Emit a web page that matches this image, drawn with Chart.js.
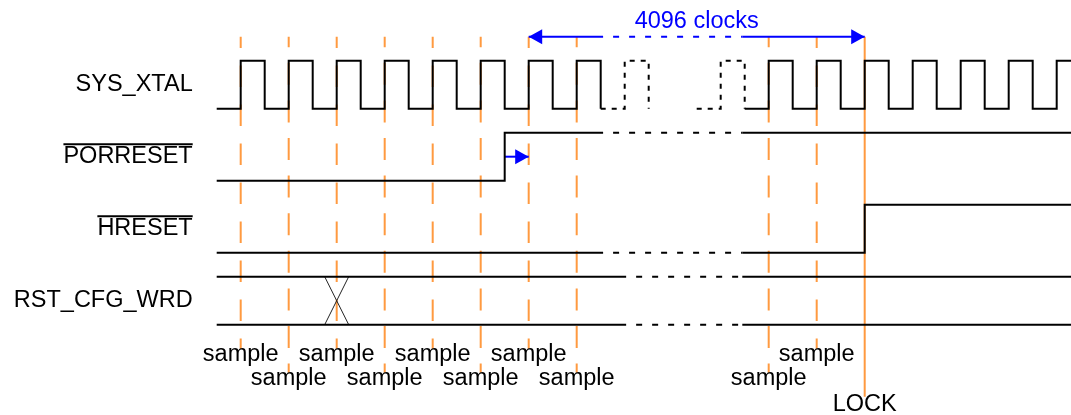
<!DOCTYPE html>
<html>
<head>
<meta charset="utf-8">
<title>Reset configuration timing</title>
<script src="https://cdn.jsdelivr.net/npm/chart.js@4.4.1/dist/chart.umd.min.js"></script>
<style>
  html, body { margin: 0; padding: 0; background: #fff; }
  #wrap { width: 1071px; height: 415px; position: relative; }
</style>
</head>
<body>
<div id="wrap"><canvas id="timing"></canvas></div>
<script>
// time is counted in SYS_XTAL periods from the first sampled rising edge
const signalNames = ['SYS_XTAL', 'PORRESET', 'HRESET', 'RST_CFG_WRD'];
const activeLow   = [false, true, true, false];

// SYS_XTAL edges and the level after each edge
const xtalTimes  = [-0.5, 0, 0.5, 1, 1.5, 2, 2.5, 3, 3.5, 4, 4.5, 5, 5.5, 6, 6.5, 7, 7.5, 8, 8.5,
                    9, 9.5, 10, 10.5, 11, 11.5, 12, 12.5, 13, 13.5, 14, 14.5, 15, 15.5, 16, 16.5, 17];
const xtalLevels = [0, 1, 0, 1, 0, 1, 0, 1, 0, 1, 0, 1, 0, 1, 0, 1, 0, 1, 0,
                    1, 0, 1, 0, 1, 0, 1, 0, 1, 0, 1, 0, 1, 0, 1, 0, 1];
const porTimes     = [-0.5, 5.5];
const porLevels    = [0, 1];
const hresetTimes  = [-0.5, 13];
const hresetLevels = [0, 1];
const cfgCrossTimes = [1.75, 2.25];

// where the traces are broken (dashed) to stand for the long wait
const startTime = -0.5, endTime = 17.4;
const breakStart = 7.55, breakEnd = 10.45, busBreakStart = 8.03;
const xtalBreaks = [[7.5, 8.5], [9.5, 10.5]];

const sampleTimes = [0, 1, 2, 3, 4, 5, 6, 7, 11, 12];
const sampleRows  = [1, 2, 1, 2, 1, 2, 1, 2, 2, 1];
const sampleLabel = 'sample';
const lockTime = 13;
const lockLabel = 'LOCK';
const countFrom = 6, countTo = 13;
const countLabel = '4096 clocks';
const porDelay = [5.5, 6];

// layout
const BLACK = '#000000', BLUE = '#0000ff', ORANGE = '#ff9a40';
const FONT = '23.5px "Liberation Sans", Arial, sans-serif';
const lane = [9, 6, 3, 0];   // low level of each row on the y scale
const swing = 2;
const arrowY = 12, guideTop = 12, nameX = -1;

function levelAt(times, levels, t) {
    let v = levels[0];
    times.forEach((tt, i) => { if (tt <= t) v = levels[i]; });
    return v;
}

function piece(times, levels, a, b) {
    const pts = [{x: a, y: levelAt(times, levels, a)}];
    times.forEach((t, i) => { if (t > a && t < b) pts.push({x: t, y: levels[i]}); });
    pts.push({x: b, y: levelAt(times, levels, b)});
    return pts;
}

function onLane(pts, row) {
    return pts.map(p => ({x: p.x, y: lane[row] + p.y * swing}));
}

const datasets = [];
function addLine(points, style) {
    datasets.push(Object.assign({
        data: points,
        showLine: true,
        pointRadius: 0,
        borderWidth: 2,
        borderColor: BLACK,
        stepped: 'before',
        order: 0
    }, style));
}

const dashed = {borderDash: [6, 10], borderDashOffset: 6};
const dotted = {borderDash: [5, 6]};

// SYS_XTAL
addLine(onLane(piece(xtalTimes, xtalLevels, startTime, xtalBreaks[0][0]), 0), {});
xtalBreaks.forEach(b => addLine(onLane(piece(xtalTimes, xtalLevels, b[0], b[1]), 0), dotted));
addLine(onLane(piece(xtalTimes, xtalLevels, xtalBreaks[1][1], endTime), 0), {});

// PORRESET and HRESET
[[porTimes, porLevels, 1], [hresetTimes, hresetLevels, 2]].forEach(([t, l, row]) => {
    addLine(onLane(piece(t, l, startTime, breakStart), row), {});
    addLine(onLane(piece(t, l, breakStart, breakEnd), row), dashed);
    addLine(onLane(piece(t, l, breakEnd, endTime), row), {});
});

// RST_CFG_WRD bus, both rails
[0, 1].forEach(level => {
    addLine(onLane(piece([startTime], [level], startTime, busBreakStart), 3), {});
    addLine(onLane(piece([startTime], [level], busBreakStart, breakEnd), 3), dashed);
    addLine(onLane(piece([startTime], [level], breakEnd, endTime), 3), {});
});
addLine(onLane([{x: cfgCrossTimes[0], y: 1}, {x: cfgCrossTimes[1], y: 0}], 3),
        {stepped: false, borderWidth: 1, borderColor: '#222'});
addLine(onLane([{x: cfgCrossTimes[0], y: 0}, {x: cfgCrossTimes[1], y: 1}], 3),
        {stepped: false, borderWidth: 1, borderColor: '#222'});

// 4096 clocks span
addLine([{x: countFrom, y: arrowY}, {x: breakStart, y: arrowY}],
        {borderColor: BLUE, stepped: false, arrowStart: true});
addLine([{x: breakStart, y: arrowY}, {x: breakEnd, y: arrowY}],
        Object.assign({borderColor: BLUE, stepped: false}, dashed));
addLine([{x: breakEnd, y: arrowY}, {x: countTo, y: arrowY}],
        {borderColor: BLUE, stepped: false, arrowEnd: true});

// PORRESET to first sample
addLine([{x: porDelay[0], y: lane[1] + swing / 2}, {x: porDelay[1], y: lane[1] + swing / 2}],
        {borderColor: BLUE, stepped: false, arrowEnd: true});

// sample guides and LOCK
sampleTimes.forEach((t, i) => {
    addLine([{x: t, y: guideTop}, {x: t, y: -sampleRows[i]}], {
        borderColor: ORANGE, stepped: false, order: 10,
        borderDash: sampleRows[i] === 1 ? [21.7, 17.3] : [22, 15.6],
        borderDashOffset: sampleRows[i] === 1 ? 10.3 : 11.5
    });
});
addLine([{x: lockTime, y: guideTop}, {x: lockTime, y: -3}],
        {borderColor: ORANGE, stepped: false, order: 10});

function arrowHead(ctx, tip, from, color) {
    const ang = Math.atan2(tip.y - from.y, tip.x - from.x);
    ctx.save();
    ctx.translate(tip.x, tip.y);
    ctx.rotate(ang);
    ctx.beginPath();
    ctx.moveTo(0, 0);
    ctx.lineTo(-13.5, -7.5);
    ctx.lineTo(-13.5, 7.5);
    ctx.closePath();
    ctx.fillStyle = color;
    ctx.fill();
    ctx.restore();
}

const decor = {
    id: 'decor',
    afterDatasetsDraw(chart) {
        const ctx = chart.ctx;
        const x = chart.scales.x, y = chart.scales.y;

        chart.data.datasets.forEach((ds, i) => {
            const pts = chart.getDatasetMeta(i).data;
            if (ds.arrowStart) arrowHead(ctx, pts[0], pts[1], ds.borderColor);
            if (ds.arrowEnd) arrowHead(ctx, pts[pts.length - 1], pts[pts.length - 2], ds.borderColor);
        });

        ctx.save();
        ctx.font = FONT;
        ctx.textBaseline = 'middle';

        // signal names
        ctx.fillStyle = BLACK;
        ctx.strokeStyle = BLACK;
        ctx.textAlign = 'right';
        signalNames.forEach((name, i) => {
            const px = x.getPixelForValue(nameX);
            const py = y.getPixelForValue(lane[i] + swing / 2);
            ctx.fillText(name, px, py);
            if (activeLow[i]) {
                const w = ctx.measureText(name).width;
                ctx.lineWidth = 2;
                ctx.beginPath();
                ctx.moveTo(px - w, py - 12.5);
                ctx.lineTo(px, py - 12.5);
                ctx.stroke();
            }
        });

        // sample labels and LOCK
        ctx.textAlign = 'center';
        sampleTimes.forEach((t, i) => {
            ctx.fillText(sampleLabel, x.getPixelForValue(t), y.getPixelForValue(-sampleRows[i] - 0.26));
        });
        ctx.fillText(lockLabel, x.getPixelForValue(lockTime), y.getPixelForValue(-3.34));

        // count label
        ctx.fillStyle = BLUE;
        ctx.fillText(countLabel, x.getPixelForValue((countFrom + countTo) / 2), y.getPixelForValue(arrowY + 0.63));
        ctx.restore();
    }
};

new Chart(document.getElementById('timing'), {
    type: 'scatter',
    data: { datasets: datasets },
    options: {
        responsive: true,
        maintainAspectRatio: false,
        animation: false,
        events: [],
        layout: { padding: 0 },
        scales: {
            x: { type: 'linear', min: -5.0146, max: 17.298, display: false },
            y: { type: 'linear', min: -3.7625, max: 13.529, display: false }
        },
        plugins: {
            legend: { display: false },
            tooltip: { enabled: false }
        }
    },
    plugins: [decor]
});
</script>
</body>
</html>
